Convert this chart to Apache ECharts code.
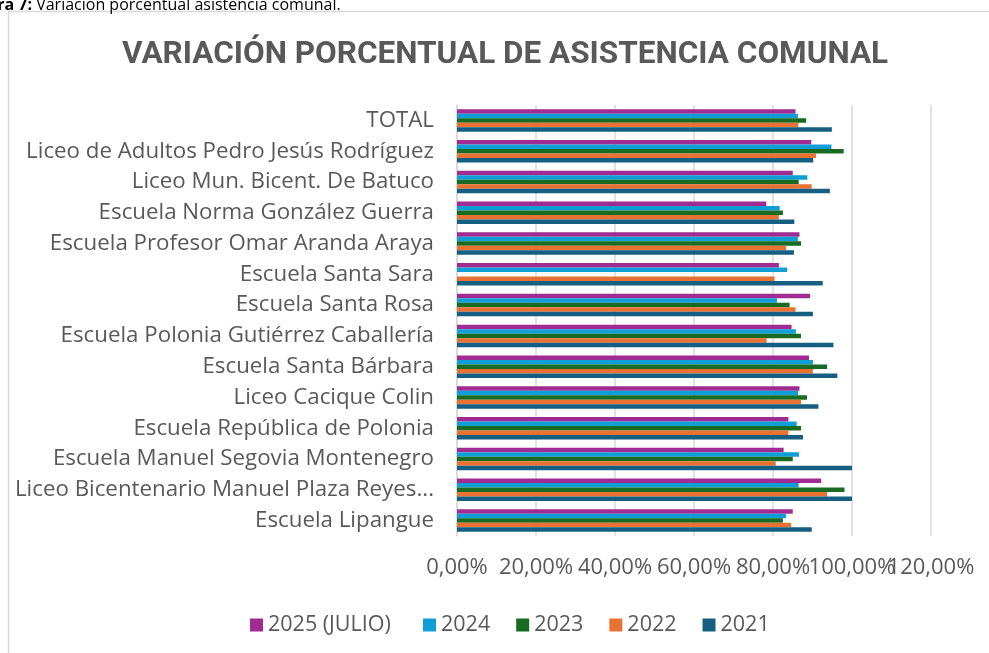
<!DOCTYPE html>
<html>
<head>
    <meta charset="utf-8">
    <title>Variación porcentual de asistencia comunal</title>
    <script src="https://cdn.jsdelivr.net/npm/echarts@6/dist/echarts.min.js"></script>
    <style>
        html, body { margin: 0; padding: 0; background: #fff; }
        #chart1 { width: 989px; height: 653px; }
    </style>
</head>
<body>
<div id="chart1"></div>
<script type="text/javascript">
    // categorias de arriba hacia abajo
    var escuelas = [
        'TOTAL',
        'Liceo de Adultos Pedro Jesús Rodríguez',
        'Liceo Mun. Bicent. De Batuco',
        'Escuela Norma González Guerra',
        'Escuela Profesor Omar Aranda Araya',
        'Escuela Santa Sara',
        'Escuela Santa Rosa',
        'Escuela Polonia Gutiérrez Caballería',
        'Escuela Santa Bárbara',
        'Liceo Cacique Colin',
        'Escuela República de Polonia',
        'Escuela Manuel Segovia Montenegro',
        'Liceo Bicentenario Manuel Plaza Reyes...',
        'Escuela Lipangue'
    ];
    var anios = ['2025 (JULIO)', '2024', '2023', '2022', '2021'];
    var ticks = [0, 0.2, 0.4, 0.6, 0.8, 1.0, 1.2];

    var v2025 = [0.857, 0.897, 0.850, 0.783, 0.867, 0.815, 0.894, 0.847, 0.891, 0.867, 0.839, 0.827, 0.922, 0.850];
    var v2024 = [0.863, 0.948, 0.887, 0.817, 0.863, 0.836, 0.810, 0.858, 0.901, 0.864, 0.860, 0.866, 0.865, 0.833];
    var v2023 = [0.884, 0.979, 0.865, 0.825, 0.871, null,  0.842, 0.871, 0.937, 0.886, 0.871, 0.850, 0.981, 0.825];
    var v2022 = [0.864, 0.909, 0.898, 0.815, 0.833, 0.804, 0.857, 0.784, 0.901, 0.871, 0.839, 0.807, 0.937, 0.846];
    var v2021 = [0.949, 0.902, 0.944, 0.854, 0.853, 0.926, 0.901, 0.953, 0.963, 0.915, 0.876, 1.000, 1.000, 0.898];

    var colores = ['#A02B93', '#0F9ED5', '#196B24', '#E97132', '#156082'];
    var valores = [v2025, v2024, v2023, v2022, v2021];

    var fuente = '"Open Sans", sans-serif';
    var gris = '#595959';

    var series = [];
    for (var i = 0; i < anios.length; i++) {
        series.push({
            name: anios[i],
            type: 'bar',
            xAxisIndex: 0,
            yAxisIndex: 0,
            data: valores[i],
            barGap: '0%',
            barCategoryGap: '27%',
            itemStyle: { color: colores[i] }
        });
    }

    function pct(v) {
        return (v * 100).toFixed(2).replace('.', ',') + '%';
    }
    var etiquetasX = ticks.map(pct);

    var leyendaBase = {
        top: 609,
        icon: 'rect',
        itemWidth: 13,
        itemHeight: 13,
        itemGap: 26,
        textStyle: { fontSize: 21.5, color: gris, fontFamily: fuente }
    };

    var myChart = echarts.init(document.getElementById('chart1'));
    myChart.setOption({
        animation: false,
        textStyle: { fontFamily: fuente },
        graphic: [
            {
                type: 'rect',
                shape: { x: 8.5, y: 11.5, width: 1200, height: 900 },
                style: { fill: 'none', stroke: '#d9d9d9', lineWidth: 1.5 },
                z: -1
            },
            {
                type: 'text',
                left: -36,
                top: -3,
                style: {
                    text: '{b|Figura 7:} Variación porcentual asistencia comunal.',
                    rich: {
                        b: { fontWeight: 'bold', fontSize: 16, fill: '#000', fontFamily: fuente }
                    },
                    fontSize: 16,
                    fontFamily: fuente,
                    fill: '#000'
                }
            }
        ],
        title: {
            text: 'VARIACIÓN PORCENTUAL DE ASISTENCIA COMUNAL',
            left: 117,
            top: 34,
            textStyle: {
                fontFamily: 'Roboto, sans-serif',
                fontSize: 31.5,
                fontWeight: 'bold',
                color: gris
            }
        },
        legend: [
            echarts.util.extend({ data: [anios[0]], left: 245 }, leyendaBase),
            echarts.util.extend({ data: anios.slice(1), left: 418 }, leyendaBase)
        ],
        grid: [
            { left: 457, right: 58, top: 105, bottom: 117, containLabel: false },
            // mismo area, solo para mostrar todas las etiquetas del eje x aunque se toquen
            { left: 457, right: 58, top: 105, bottom: 117, containLabel: false }
        ],
        xAxis: [
            {
                type: 'value',
                gridIndex: 0,
                min: 0,
                max: 1.2,
                interval: 0.2,
                axisLine: { show: false },
                axisTick: { show: false },
                axisLabel: { show: false },
                splitLine: { lineStyle: { color: '#d9d9d9', width: 1.5 } }
            },
            {
                type: 'category',
                gridIndex: 1,
                data: etiquetasX,
                boundaryGap: false,
                axisLine: { show: false },
                axisTick: { show: false },
                splitLine: { show: false },
                axisLabel: {
                    interval: 0,
                    fontSize: 22,
                    color: gris,
                    margin: 21
                }
            }
        ],
        yAxis: [
            {
                type: 'category',
                gridIndex: 0,
                data: escuelas,
                inverse: true,
                axisLine: { show: true, lineStyle: { color: '#d9d9d9', width: 1.5 } },
                axisTick: { show: false },
                axisLabel: { fontSize: 22.3, color: gris, margin: 23 }
            },
            {
                type: 'value',
                gridIndex: 1,
                show: false
            }
        ],
        series: series
    });
</script>
</body>
</html>
